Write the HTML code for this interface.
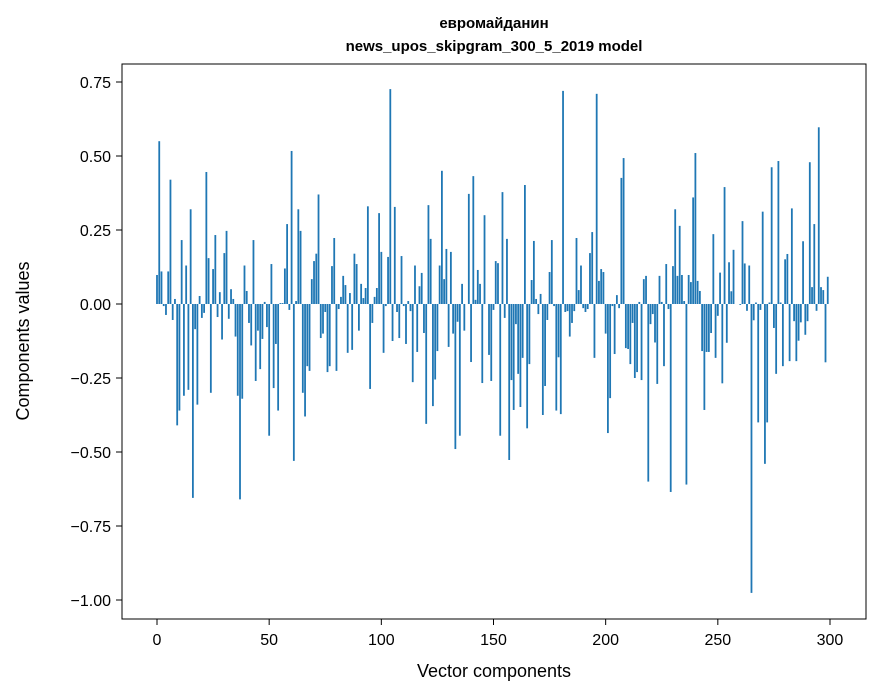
<!DOCTYPE html>
<html><head><meta charset="utf-8"><style>
html,body{margin:0;padding:0;background:#fff;}
svg{display:block;font-family:"Liberation Sans","DejaVu Sans",sans-serif;}
</style></head><body>
<svg id="chart" width="880" height="696" viewBox="0 0 880 696" xmlns="http://www.w3.org/2000/svg">
<text x="494" y="28" text-anchor="middle" font-size="15" font-weight="bold">евромайданин</text>
<text x="494" y="51" text-anchor="middle" font-size="15" font-weight="bold">news_upos_skipgram_300_5_2019 model</text>
<g id="bars"></g>
<g id="xticks"></g>
<g id="yticks"></g>
<rect x="122" y="64" width="744" height="555" fill="none" stroke="#000" stroke-width="1"/>
<text x="494" y="677" text-anchor="middle" font-size="18">Vector components</text>
<text transform="translate(29,341) rotate(-90)" text-anchor="middle" font-size="18">Components values</text>
</svg>
<script>
const values = [
0.098,0.55,0.11,-0.007,-0.037,0.11,0.42,-0.054,0.017,-0.41,-0.36,0.216,-0.31,0.13,-0.29,0.32,-0.655,-0.085,-0.34,0.027,-0.047,-0.03,0.446,0.155,-0.30,0.118,0.233,-0.044,0.04,-0.12,0.172,0.247,-0.05,0.05,0.017,-0.11,-0.31,-0.66,-0.32,0.13,0.044,-0.064,-0.14,0.216,-0.26,-0.09,-0.22,-0.118,0.007,-0.078,
-0.445,0.135,-0.284,-0.135,-0.36,0.003,0.003,0.12,0.27,-0.02,0.517,-0.53,0.01,0.32,0.247,-0.30,-0.38,-0.21,-0.226,0.084,0.145,0.17,0.37,-0.115,-0.10,-0.027,-0.23,-0.21,0.128,0.223,-0.226,-0.017,0.024,0.095,0.064,-0.165,0.037,-0.155,0.17,0.135,-0.09,0.068,0.02,0.054,0.33,-0.287,-0.064,0.024,0.054,0.307,
0.176,-0.165,-0.007,0.159,0.726,-0.125,0.328,-0.027,-0.115,0.162,-0.007,-0.135,0.01,-0.024,-0.264,0.13,-0.162,0.06,0.105,-0.098,-0.405,0.334,0.22,-0.345,-0.255,-0.159,0.13,0.45,0.084,0.186,-0.145,0.176,-0.10,-0.49,-0.06,-0.445,0.068,-0.09,0,0.372,-0.196,0.432,0.014,0.115,0.068,-0.267,0.30,0,-0.172,-0.26,
-0.02,0.145,0.138,-0.445,0.378,-0.047,0.22,-0.527,-0.257,-0.358,-0.068,-0.236,-0.348,-0.182,0.402,-0.42,-0.203,0.081,0.213,0.017,-0.034,0.034,-0.375,-0.277,-0.054,0.108,0.216,-0.007,-0.36,-0.18,-0.372,0.72,-0.027,-0.024,-0.11,-0.064,-0.024,0.223,0.047,0.13,-0.014,-0.027,-0.017,0.172,0.243,-0.182,0.71,0.078,0.118,0.108,
-0.10,-0.436,-0.318,-0.007,-0.169,0.03,-0.014,0.426,0.493,-0.149,-0.152,-0.203,-0.064,-0.25,-0.23,0.007,-0.257,0.084,0.095,-0.60,-0.068,-0.034,-0.13,-0.27,0.095,0.007,-0.21,0.135,-0.017,-0.635,0.128,0.32,0.095,0.264,0.098,0.01,-0.61,0.098,0.074,0.36,0.51,0.078,0.044,-0.159,-0.358,-0.162,-0.162,-0.098,0.236,-0.182,
-0.04,0.106,-0.268,0.395,-0.131,0.141,0.043,0.183,0,0,-0.003,0.28,0.137,-0.023,0.13,-0.976,-0.055,0.005,-0.40,-0.02,0.312,-0.54,-0.40,0.005,0.462,-0.081,-0.236,0.483,0.005,-0.21,0.151,0.169,-0.193,0.323,-0.058,-0.193,-0.124,-0.062,0.212,-0.104,-0.058,0.479,0.057,0.27,-0.023,0.597,0.057,0.047,-0.197,0.092
];
const xTicks = [0,50,100,150,200,250,300];
const yTicks = [0.75,0.50,0.25,0.00,-0.25,-0.50,-0.75,-1.00];
const yTickLabels = ["0.75","0.50","0.25","0.00","\u22120.25","\u22120.50","\u22120.75","\u22121.00"];

const NS = "http://www.w3.org/2000/svg";
function xs(v){ return 157 + (v)*2.2433; }
function ys(v){ return 304 - v*296; }
const barsG = document.getElementById('bars');
values.forEach((v,i)=>{
  const r = document.createElementNS(NS,'rect');
  
  
  const x0 = xs(i-0.4), x1 = xs(i+0.4);
  const y0 = ys(Math.max(v,0)), y1 = ys(Math.min(v,0));
  r.setAttribute('x', x0);
  r.setAttribute('y', y0);
  r.setAttribute('width', x1-x0);
  r.setAttribute('height', Math.max(y1-y0,0.01));
  r.setAttribute('fill','#1f77b4');
  barsG.appendChild(r);
});
const xg = document.getElementById('xticks');
xTicks.forEach(t=>{
  const l = document.createElementNS(NS,'line');
  
  
  l.setAttribute('x1',xs(t)); l.setAttribute('x2',xs(t));
  l.setAttribute('y1',619); l.setAttribute('y2',625);
  l.setAttribute('stroke','#000');
  xg.appendChild(l);
  const tx = document.createElementNS(NS,'text');
  
  
  tx.setAttribute('x',xs(t)); tx.setAttribute('y',645);
  tx.setAttribute('text-anchor','middle'); tx.setAttribute('font-size','16');
  tx.textContent = String(t);
  xg.appendChild(tx);
});
const yg = document.getElementById('yticks');
yTicks.forEach((t,k)=>{
  const l = document.createElementNS(NS,'line');
  
  
  l.setAttribute('x1',116); l.setAttribute('x2',122);
  l.setAttribute('y1',ys(t)); l.setAttribute('y2',ys(t));
  l.setAttribute('stroke','#000');
  yg.appendChild(l);
  const tx = document.createElementNS(NS,'text');
  
  
  tx.setAttribute('x',111); tx.setAttribute('y',ys(t)+6);
  tx.setAttribute('text-anchor','end'); tx.setAttribute('font-size','16');
  tx.textContent = yTickLabels[k];
  yg.appendChild(tx);
});
</script>
</body></html>
